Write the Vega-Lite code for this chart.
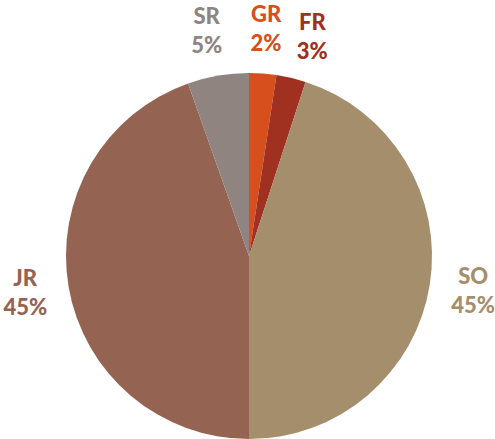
{
  "$schema": "https://vega.github.io/schema/vega-lite/v6.json",
  "width": 496,
  "height": 366,
  "padding": {"left": 1, "top": 73, "right": 0, "bottom": 0},
  "autosize": {"type": "none"},
  "background": "white",
  "view": {"stroke": null},
  "data": {
    "values": [
      {"cls": "GR", "value": 2.4, "ord": 1, "label": "GR\n2%"},
      {"cls": "FR", "value": 2.6, "ord": 2, "label": "FR\n3%"},
      {"cls": "SO", "value": 45.0, "ord": 3, "label": "SO\n45%"},
      {"cls": "JR", "value": 44.6, "ord": 4, "label": "JR\n45%"},
      {"cls": "SR", "value": 5.4, "ord": 5, "label": "SR\n5%"}
    ]
  },
  "encoding": {
    "theta": {"field": "value", "type": "quantitative", "stack": true},
    "order": {"field": "ord", "type": "quantitative"},
    "color": {
      "field": "cls",
      "type": "nominal",
      "legend": null,
      "scale": {
        "domain": ["GR", "FR", "SO", "JR", "SR"],
        "range": ["#d64f1c", "#a0301f", "#a58e6c", "#956352", "#8f8480"]
      }
    }
  },
  "layer": [
    {"mark": {"type": "arc", "outerRadius": 183}},
    {
      "mark": {
        "type": "text",
        "radius": 227,
        "dy": -15,
        "font": "Lato",
        "fontSize": 22,
        "fontWeight": 900,
        "lineBreak": "\n",
        "lineHeight": 29,
        "baseline": "middle",
        "align": "center"
      },
      "encoding": {
        "text": {"condition": {"test": "datum.cls !== 'FR' && datum.cls !== 'SR'", "field": "label"}, "value": ""}
      }
    },
    {
      "mark": {
        "type": "text",
        "radius": 227,
        "dy": -12,
        "dx": 11,
        "font": "Lato",
        "fontSize": 22,
        "fontWeight": 900,
        "lineBreak": "\n",
        "lineHeight": 29,
        "baseline": "middle",
        "align": "center"
      },
      "encoding": {
        "text": {"condition": {"test": "datum.cls === 'FR'", "field": "label"}, "value": ""}
      }
    },
    {
      "mark": {
        "type": "text",
        "radius": 227,
        "dy": -15,
        "dx": -4,
        "font": "Lato",
        "fontSize": 22,
        "fontWeight": 900,
        "lineBreak": "\n",
        "lineHeight": 29,
        "baseline": "middle",
        "align": "center"
      },
      "encoding": {
        "text": {"condition": {"test": "datum.cls === 'SR'", "field": "label"}, "value": ""}
      }
    }
  ]
}
